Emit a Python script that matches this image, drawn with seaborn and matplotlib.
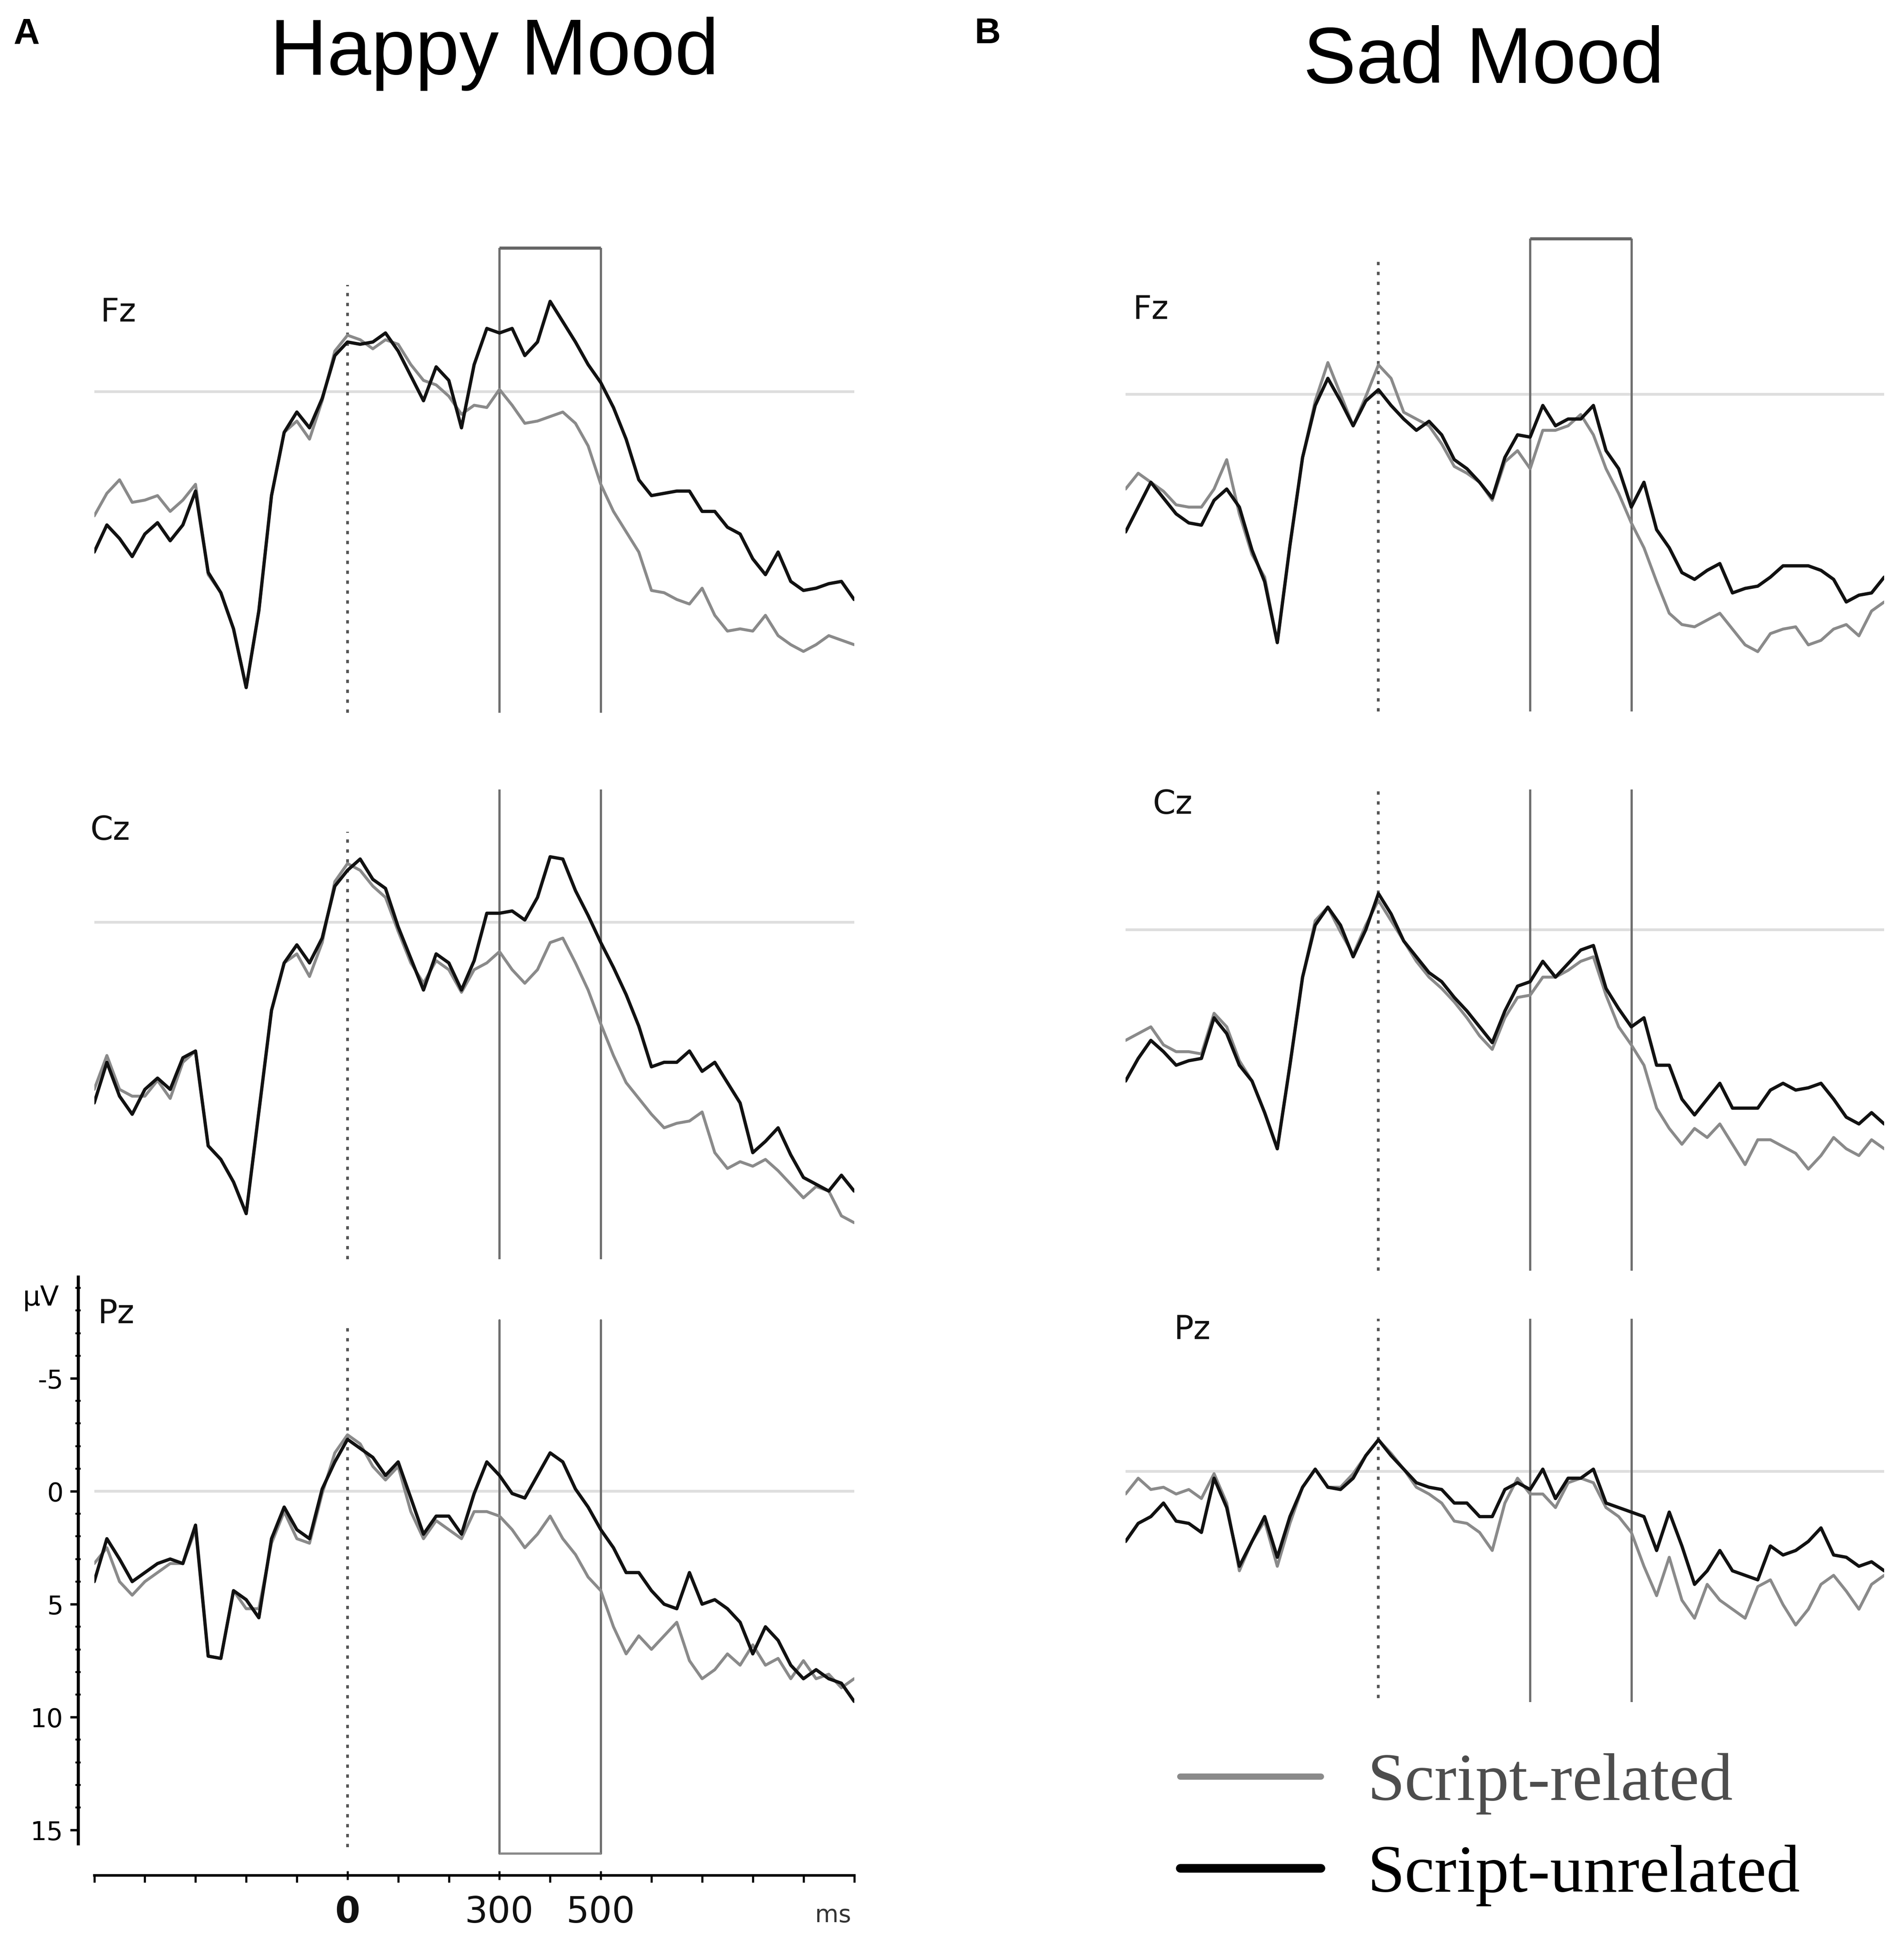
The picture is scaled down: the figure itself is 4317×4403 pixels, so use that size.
import numpy as np
import matplotlib
matplotlib.use('Agg')
import matplotlib.pyplot as plt
from matplotlib.lines import Line2D
from matplotlib.ticker import FixedLocator, MultipleLocator
import seaborn as sns

# time base of the ERP traces (ms)
times = np.arange(-500, 1001, 25)

# ---- A: happy mood, amplitudes in microvolts (negative plotted up) ----
happy_fz_related = [
    5.5, 4.5, 3.9, 4.9, 4.8, 4.6, 5.3, 4.8, 4.1,
    8.1, 8.9, 10.5, 13.1, 9.7, 4.6, 1.8, 1.3,
    2.1, 0.4, -1.8, -2.5, -2.3, -1.9, -2.3, -2.1,
    -1.2, -0.5, -0.3, 0.2, 1.0, 0.6, 0.7, -0.1,
    0.6, 1.4, 1.3, 1.1, 0.9, 1.4, 2.4, 4.1,
    5.3, 6.2, 7.1, 8.8, 8.9, 9.2, 9.4, 8.7,
    9.9, 10.6, 10.5, 10.6, 9.9, 10.8, 11.2, 11.5,
    11.2, 10.8, 11.0, 11.2]
happy_fz_unrelated = [
    7.1, 5.9, 6.5, 7.3, 6.3, 5.8, 6.6, 5.9, 4.4,
    8.0, 8.9, 10.5, 13.1, 9.7, 4.6, 1.8, 0.9,
    1.6, 0.3, -1.6, -2.2, -2.1, -2.2, -2.6, -1.8,
    -0.7, 0.4, -1.1, -0.5, 1.6, -1.2, -2.8, -2.6,
    -2.8, -1.6, -2.2, -4.0, -3.1, -2.2, -1.2, -0.4,
    0.7, 2.1, 3.9, 4.6, 4.5, 4.4, 4.4, 5.3,
    5.3, 6.0, 6.3, 7.4, 8.1, 7.1, 8.4, 8.8,
    8.7, 8.5, 8.4, 9.2]
happy_cz_related = [
    7.4, 5.9, 7.4, 7.7, 7.7, 7.0, 7.8, 6.2, 5.7,
    9.9, 10.5, 11.5, 12.9, 8.4, 3.9, 1.8, 1.4,
    2.4, 0.9, -1.8, -2.6, -2.3, -1.6, -1.1, 0.4,
    1.8, 2.7, 1.7, 2.1, 3.1, 2.1, 1.8, 1.3,
    2.1, 2.7, 2.1, 0.9, 0.7, 1.8, 3.0, 4.5,
    5.9, 7.1, 7.8, 8.5, 9.1, 8.9, 8.8, 8.4,
    10.2, 10.9, 10.6, 10.8, 10.5, 11.0, 11.6, 12.2,
    11.7, 11.9, 13.0, 13.3]
happy_cz_unrelated = [
    8.0, 6.2, 7.7, 8.5, 7.4, 6.9, 7.4, 6.0, 5.7,
    9.9, 10.5, 11.5, 12.9, 8.4, 3.9, 1.8, 1.0,
    1.8, 0.7, -1.6, -2.3, -2.8, -1.9, -1.5, 0.2,
    1.6, 3.0, 1.4, 1.8, 3.0, 1.7, -0.4, -0.4,
    -0.5, -0.1, -1.1, -2.9, -2.8, -1.4, -0.3, 0.9,
    2.0, 3.2, 4.6, 6.4, 6.2, 6.2, 5.7, 6.6,
    6.2, 7.1, 8.0, 10.2, 9.7, 9.1, 10.3, 11.3,
    11.6, 11.9, 11.2, 11.9]
happy_pz_related = [
    3.2, 2.5, 4.0, 4.6, 4.0, 3.6, 3.2, 3.2, 1.7,
    7.3, 7.4, 4.4, 5.2, 5.2, 2.3, 0.9, 2.1,
    2.3, 0.1, -1.7, -2.5, -2.1, -1.1, -0.5, -1.1,
    0.9, 2.1, 1.3, 1.7, 2.1, 0.9, 0.9, 1.1,
    1.7, 2.5, 1.9, 1.1, 2.1, 2.8, 3.8, 4.4,
    6.0, 7.2, 6.4, 7.0, 6.4, 5.8, 7.5, 8.3,
    7.9, 7.2, 7.7, 6.8, 7.7, 7.4, 8.3, 7.5,
    8.3, 8.1, 8.7, 8.3]
happy_pz_unrelated = [
    4.0, 2.1, 3.0, 4.0, 3.6, 3.2, 3.0, 3.2, 1.5,
    7.3, 7.4, 4.4, 4.8, 5.6, 2.1, 0.7, 1.7,
    2.1, -0.1, -1.3, -2.3, -1.9, -1.5, -0.7, -1.3,
    0.3, 1.9, 1.1, 1.1, 1.9, 0.1, -1.3, -0.7,
    0.1, 0.3, -0.7, -1.7, -1.3, -0.1, 0.7, 1.7,
    2.5, 3.6, 3.6, 4.4, 5.0, 5.2, 3.6, 5.0,
    4.8, 5.2, 5.8, 7.2, 6.0, 6.6, 7.7, 8.3,
    7.9, 8.3, 8.5, 9.3]

# ---- B: sad mood ----
sad_fz_related = [
    4.2, 3.5, 3.9, 4.3, 4.9, 5.0, 5.0, 4.2, 2.9,
    5.3, 7.1, 8.1, 11.0, 6.7, 2.8, 0.3, -1.4,
    0.0, 1.4, 0.1, -1.3, -0.7, 0.8, 1.1, 1.4,
    2.2, 3.2, 3.5, 3.9, 4.7, 3.0, 2.5, 3.3,
    1.6, 1.6, 1.4, 0.9, 1.8, 3.3, 4.4, 5.7,
    6.8, 8.3, 9.7, 10.2, 10.3, 10.0, 9.7, 10.4,
    11.1, 11.4, 10.6, 10.4, 10.3, 11.1, 10.9, 10.4,
    10.2, 10.7, 9.6, 9.2]
sad_fz_unrelated = [
    6.1, 5.0, 3.9, 4.6, 5.3, 5.7, 5.8, 4.7, 4.2,
    5.0, 6.9, 8.3, 11.0, 6.7, 2.8, 0.5, -0.7,
    0.3, 1.4, 0.3, -0.2, 0.5, 1.1, 1.6, 1.2,
    1.8, 2.9, 3.3, 3.9, 4.6, 2.8, 1.8, 1.9,
    0.5, 1.4, 1.1, 1.1, 0.5, 2.5, 3.3, 5.0,
    3.9, 6.0, 6.8, 7.9, 8.2, 7.8, 7.5, 8.8,
    8.6, 8.5, 8.1, 7.6, 7.6, 7.6, 7.8, 8.2,
    9.2, 8.9, 8.8, 8.1]
sad_cz_related = [
    4.9, 4.6, 4.3, 5.1, 5.4, 5.4, 5.5, 3.7, 4.3,
    5.8, 6.7, 8.1, 9.7, 6.0, 2.1, -0.4, -1.0,
    0.1, 1.1, -0.2, -1.3, -0.4, 0.5, 1.4, 2.1,
    2.6, 3.2, 3.9, 4.7, 5.3, 3.9, 3.0, 2.9,
    2.1, 2.1, 1.8, 1.4, 1.2, 2.9, 4.3, 5.1,
    6.0, 7.9, 8.8, 9.5, 8.8, 9.2, 8.6, 9.5,
    10.4, 9.3, 9.3, 9.6, 9.9, 10.6, 10.0, 9.2,
    9.7, 10.0, 9.3, 9.7]
sad_cz_unrelated = [
    6.7, 5.7, 4.9, 5.4, 6.0, 5.8, 5.7, 3.9, 4.6,
    6.0, 6.7, 8.1, 9.7, 6.0, 2.1, -0.2, -1.0,
    -0.2, 1.2, 0.0, -1.6, -0.7, 0.5, 1.2, 1.9,
    2.3, 3.0, 3.6, 4.3, 5.0, 3.6, 2.5, 2.3,
    1.4, 2.1, 1.5, 0.9, 0.7, 2.6, 3.5, 4.3,
    3.9, 6.0, 6.0, 7.5, 8.2, 7.5, 6.8, 7.9,
    7.9, 7.9, 7.1, 6.8, 7.1, 7.0, 6.8, 7.5,
    8.3, 8.6, 8.1, 8.6]
sad_pz_related = [
    1.0, 0.3, 0.8, 0.7, 1.0, 0.8, 1.2, 0.1, 1.4,
    4.4, 3.1, 2.2, 4.2, 2.3, 0.7, -0.1, 0.7,
    0.7, 0.1, -0.7, -1.4, -0.8, -0.1, 0.7, 1.0,
    1.4, 2.2, 2.3, 2.7, 3.5, 1.4, 0.3, 1.0,
    1.0, 1.6, 0.5, 0.3, 0.5, 1.6, 2.0, 2.7,
    4.2, 5.5, 3.8, 5.7, 6.5, 5.0, 5.7, 6.1,
    6.5, 5.1, 4.8, 5.9, 6.8, 6.1, 5.0, 4.6,
    5.3, 6.1, 5.0, 4.6]
sad_pz_unrelated = [
    3.1, 2.3, 2.0, 1.4, 2.2, 2.3, 2.7, 0.3, 1.6,
    4.2, 3.1, 2.0, 3.8, 2.0, 0.7, -0.1, 0.7,
    0.8, 0.3, -0.7, -1.4, -0.7, -0.1, 0.5, 0.7,
    0.8, 1.4, 1.4, 2.0, 2.0, 0.8, 0.5, 0.8,
    -0.1, 1.2, 0.3, 0.3, -0.1, 1.4, 1.6, 1.8,
    2.0, 3.5, 1.8, 3.3, 5.0, 4.4, 3.5, 4.4,
    4.6, 4.8, 3.3, 3.7, 3.5, 3.1, 2.5, 3.7,
    3.8, 4.2, 4.0, 4.4]

window = (300, 500)
legend_labels = ['Script-related', 'Script-unrelated']
col_related = '#8a8a8a'
col_unrelated = '#111111'

sns.set_style('white')
plt.rcParams['font.family'] = ['DejaVu Sans']
plt.rcParams['axes.unicode_minus'] = False
plt.rcParams['text.color'] = 'black'

# layout is worked out in a 1536 x 1566.6 px frame
W, H = 1536.0, 1566.6
UV = 18.22  # px per microvolt
DPI = 281.06
fig = plt.figure(figsize=(W / 100, H / 100), dpi=DPI)
fig.patch.set_facecolor('white')


def frac(top, bottom, y):
    return (bottom - y) / (bottom - top)


def panel(rel, unrel, x0, x1, top, bottom, base, dot_top, dot_bot,
          win_top, win_bot, top_edge=False, bottom_edge=False):
    ax = fig.add_axes([x0 / W, 1 - bottom / H, (x1 - x0) / W, (bottom - top) / H])
    ax.set_facecolor('none')
    ax.axhline(0, color='#dedede', lw=1.6, zorder=1)
    sns.lineplot(x=times, y=rel, ax=ax, color=col_related, lw=1.7, zorder=3)
    sns.lineplot(x=times, y=unrel, ax=ax, color=col_unrelated, lw=1.9, zorder=4)
    ax.set_xlim(-500, 1000)
    ylo, yhi = (bottom - base) / UV, -(base - top) / UV
    ax.set_ylim(ylo, yhi)
    ax.axvline(0, frac(top, bottom, dot_bot), frac(top, bottom, dot_top),
               color='#555555', lw=1.6, ls=(0, (1.2, 2.4)), zorder=2)
    for w in window:
        ax.axvline(w, frac(top, bottom, win_bot), frac(top, bottom, win_top),
                   color='#707070', lw=1.3, zorder=2)
    if top_edge:
        ax.hlines((win_top - base) / UV, *window, color='#666666', lw=1.8, clip_on=False)
    if bottom_edge:
        ax.hlines((win_bot - base) / UV, *window, color='#8a8a8a', lw=1.3, clip_on=False)
    for s in ax.spines.values():
        s.set_visible(False)
    ax.set_xticks([])
    ax.set_yticks([])
    ax.set_xlabel('')
    ax.set_ylabel('')
    return ax


def label(x, y, s, **kw):
    fig.text(x / W, 1 - y / H, s, **kw)


# panel A
panel(happy_fz_related, happy_fz_unrelated, 76, 689, 200, 575, 316, 230, 575, 200, 575, top_edge=True)
panel(happy_cz_related, happy_cz_unrelated, 76, 689, 637, 1016, 744, 671, 1016, 637, 1016)
ax = panel(happy_pz_related, happy_pz_unrelated, 76, 689, 1030, 1513, 1203, 1067, 1490, 1065, 1495,
           bottom_edge=True)

# microvolt / time axes on the Pz plot of panel A
ax.spines['left'].set_visible(True)
ax.spines['left'].set_position(('outward', 9.5))
ax.spines['left'].set_bounds(-9.5, 15.6)
ax.spines['left'].set_linewidth(1.8)
ax.spines['left'].set_color('black')
ax.spines['bottom'].set_visible(True)
ax.spines['bottom'].set_linewidth(1.5)
ax.spines['bottom'].set_color('black')
ax.set_yticks([-5, 0, 5, 10, 15], ['-5', '0', '5', '10', '15'])
ax.yaxis.set_minor_locator(FixedLocator(np.arange(-9, 16)))
ax.tick_params(axis='y', which='both', left=True)
ax.tick_params(axis='y', which='major', direction='out', length=4.5, width=1.4,
               labelsize=15, pad=4, colors='black')
ax.tick_params(axis='y', which='minor', direction='inout', length=3, width=1.1, colors='black')
ax.set_xticks([0, 300, 500], ['0', '300', '500'])
ax.xaxis.set_minor_locator(MultipleLocator(100))
ax.tick_params(axis='x', which='both', bottom=True)
ax.tick_params(axis='x', which='major', direction='inout', length=5, width=1.2,
               labelsize=21, pad=9, colors='#111111')
ax.tick_params(axis='x', which='minor', direction='out', length=4, width=1.2, colors='black')
for t in ax.get_xticklabels():
    if t.get_text() == '0':
        t.set_fontweight('bold')

# panel B
panel(sad_fz_related, sad_fz_unrelated, 908, 1520, 192.6, 574, 318, 210, 574, 192.6, 574, top_edge=True)
panel(sad_cz_related, sad_cz_unrelated, 908, 1520, 637, 1025, 750, 637, 1025, 637, 1025)
panel(sad_pz_related, sad_pz_unrelated, 908, 1520, 1064, 1373, 1187, 1064, 1370, 1064, 1373)

# electrode names
for x, y, s in [(81, 252, 'Fz'), (73, 670, 'Cz'), (79, 1060, 'Pz'),
                (914, 250, 'Fz'), (930, 649, 'Cz'), (947, 1073, 'Pz')]:
    label(x, y, s, fontsize=19, va='center', ha='left', color='#111111')

label(33, 1047, 'µV', fontsize=16, ha='center', va='center', color='black')
label(672, 1545, 'ms', fontsize=14, ha='center', va='center', color='#333333')

# titles and panel letters
label(399, 60, 'Happy Mood', fontsize=46, ha='center', va='baseline', family='Liberation Sans')
label(1197, 67, 'Sad Mood', fontsize=46, ha='center', va='baseline', family='Liberation Sans')
label(11, 35, 'A', fontsize=21, fontweight='bold', ha='left', va='baseline', family='Liberation Sans')
label(786, 35, 'B', fontsize=21, fontweight='bold', ha='left', va='baseline', family='Liberation Sans')

handles = [Line2D([], [], color=col_related, lw=3.6),
           Line2D([], [], color='black', lw=5.0)]
leg = fig.legend(handles, legend_labels, loc='center left',
                 bbox_to_anchor=(952 / W, 1 - 1476 / H), frameon=False,
                 prop={'family': 'Liberation Serif', 'size': 39},
                 handlelength=2.1, handletextpad=0.69, labelspacing=0.45,
                 borderpad=0, borderaxespad=0)
leg.get_texts()[0].set_color('#4d4d4d')
leg.get_texts()[1].set_color('black')

fig.savefig('out.png', dpi=DPI, facecolor='white')
